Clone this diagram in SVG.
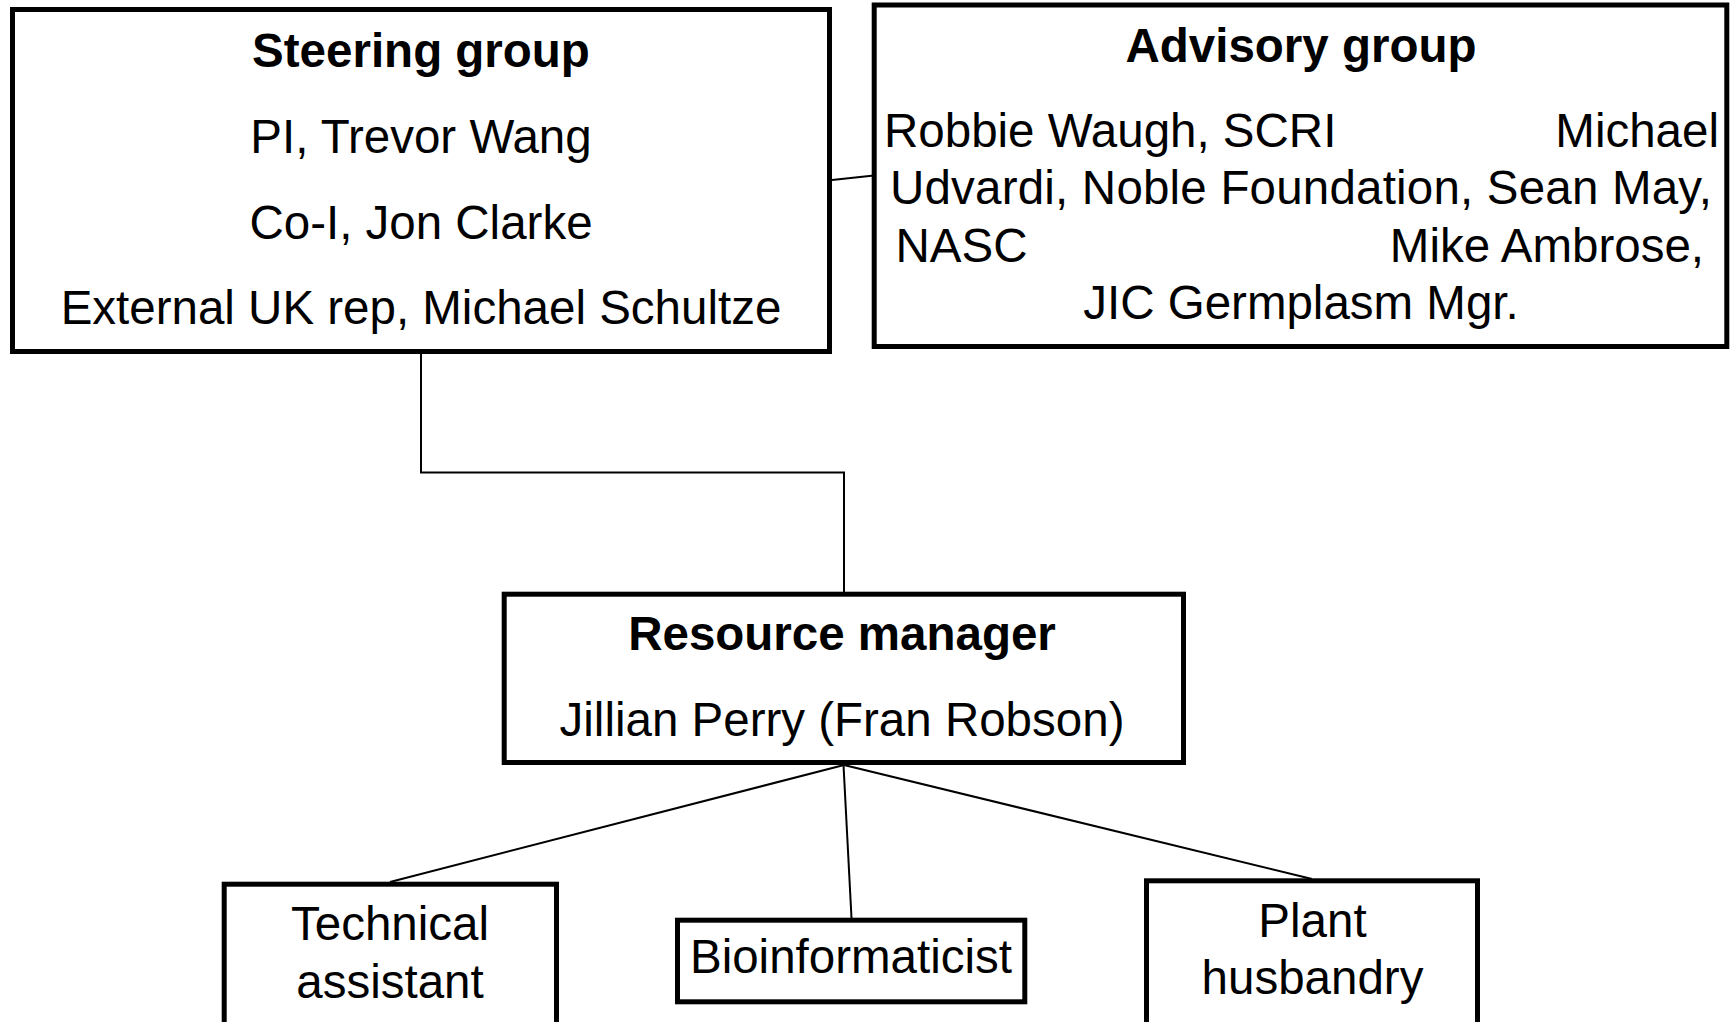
<svg xmlns="http://www.w3.org/2000/svg" width="1735" height="1022" viewBox="0 0 1735 1022">
<style>
.box{fill:#fff;stroke:#000;stroke-width:5}
.t{font-family:"Liberation Sans",Arial,sans-serif;font-size:47.5px;fill:#000}
.b{font-weight:bold}
.c{text-anchor:middle}
.e{text-anchor:end}
.con{fill:none;stroke:#000;stroke-width:2}
</style>
<rect width="1735" height="1022" fill="#fff"/>
<g id="connectors">
<line class="con" x1="832" y1="180" x2="874" y2="175.5"/>
<polyline class="con" points="421,354 421,472.5 844,472.5 844,592"/>
<line class="con" x1="844" y1="765" x2="390" y2="882"/>
<line class="con" x1="843.5" y1="765" x2="851.5" y2="918"/>
<line class="con" x1="844" y1="765" x2="1312" y2="879"/>
</g>
<g id="steering">
<rect class="box" x="12.5" y="9.5" width="817" height="342"/>
<text class="t b c" x="421" y="66.7">Steering group</text>
<text class="t c" x="421" y="153.3">PI, Trevor Wang</text>
<text class="t c" x="421" y="238.5">Co-I, Jon Clarke</text>
<text class="t c" x="421" y="324">External UK rep, Michael Schultze</text>
</g>
<g id="advisory">
<rect class="box" x="874.2" y="5" width="852.6" height="341.5"/>
<text class="t b c" x="1301" y="61.7">Advisory group</text>
<text class="t" x="884" y="146.7">Robbie Waugh, SCRI</text>
<text class="t e" x="1719" y="146.7">Michael</text>
<text class="t" x="890" y="204" textLength="822" lengthAdjust="spacing">Udvardi, Noble Foundation, Sean May,</text>
<text class="t" x="895.5" y="261.7">NASC</text>
<text class="t e" x="1704" y="261.7">Mike Ambrose,</text>
<text class="t c" x="1301" y="319.3">JIC Germplasm Mgr.</text>
</g>
<g id="resource">
<rect class="box" x="504.2" y="594.2" width="679.3" height="168.3"/>
<text class="t b c" x="842" y="650">Resource manager</text>
<text class="t c" x="842" y="736">Jillian Perry (Fran Robson)</text>
</g>
<g id="technical">
<rect class="box" x="224.2" y="884.2" width="332.3" height="160"/>
<text class="t c" x="390" y="940">Technical</text>
<text class="t c" x="390" y="998.3">assistant</text>
</g>
<g id="bioinformaticist">
<rect class="box" x="677.5" y="920.2" width="347.3" height="81.6"/>
<text class="t c" x="851" y="973.3">Bioinformaticist</text>
</g>
<g id="plant">
<rect class="box" x="1146.5" y="880.8" width="331" height="160"/>
<text class="t c" x="1312.5" y="937">Plant</text>
<text class="t c" x="1312.5" y="993.5">husbandry</text>
</g>
</svg>
